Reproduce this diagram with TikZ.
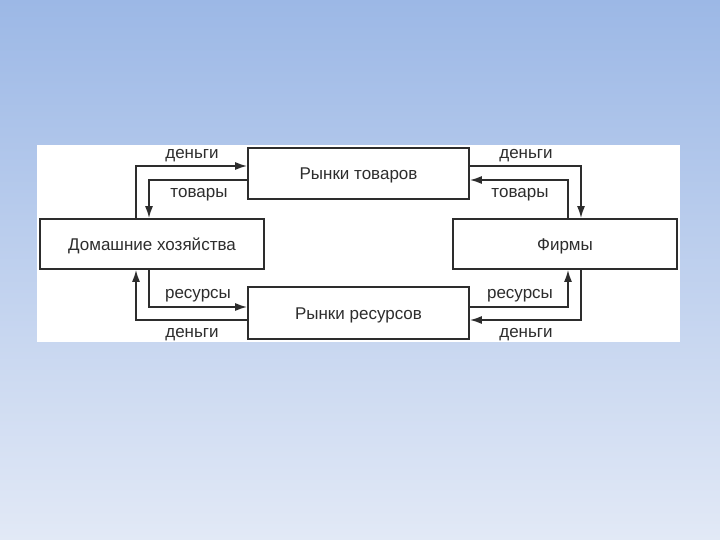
\documentclass[tikz,border=0pt]{standalone}
\usepackage{fontspec}
\setmainfont{Liberation Sans}
\usetikzlibrary{arrows.meta}
\definecolor{bgtop}{RGB}{156,184,230}
\definecolor{bgbot}{RGB}{226,233,246}
\definecolor{ink}{RGB}{45,45,45}
\tikzset{
  box/.style={draw=ink, line width=1.8pt, fill=white, text=ink, inner sep=0pt,
    font=\fontsize{17}{19}\selectfont, text height=12pt, text depth=0pt},
  flow/.style={draw=ink, line width=1.6pt, -{Latex[length=12pt,width=8pt]}},
  lbl/.style={text=ink, font=\fontsize{17}{19}\selectfont, inner sep=0pt, anchor=base}
}
\begin{document}
\begin{tikzpicture}[x=1pt,y=-1pt]
\useasboundingbox (0,0) rectangle (720,540);
\shade[top color=bgtop, bottom color=bgbot] (0,0) rectangle (720,540);
\fill[white] (37,145) rectangle (680,342);

\node[box, minimum width=221pt, minimum height=51pt] (goods) at (358.5,173.5) {Рынки товаров};
\node[box, minimum width=224pt, minimum height=50pt] (hh) at (152,244) {Домашние хозяйства};
\node[box, minimum width=224pt, minimum height=50pt] (firms) at (565,244) {Фирмы};
\node[box, minimum width=221pt, minimum height=52pt] (res) at (358.5,313) {Рынки ресурсов};

\coordinate (xL1) at (136,0);
\coordinate (xL2) at (149,0);
\coordinate (xR1) at (581,0);
\coordinate (xR2) at (568,0);
\coordinate (yT1) at (0,166);
\coordinate (yT2) at (0,180);
\coordinate (yB1) at (0,307);
\coordinate (yB2) at (0,320);

% top left
\draw[flow] (xL1 |- hh.north) |- (goods.west |- yT1);
\draw[flow] (goods.west |- yT2) -| (xL2 |- hh.north);
% top right
\draw[flow] (goods.east |- yT1) -| (xR1 |- firms.north);
\draw[flow] (xR2 |- firms.north) |- (goods.east |- yT2);
% bottom left
\draw[flow] (xL2 |- hh.south) |- (res.west |- yB1);
\draw[flow] (res.west |- yB2) -| (xL1 |- hh.south);
% bottom right
\draw[flow] (res.east |- yB1) -| (xR2 |- firms.south);
\draw[flow] (xR1 |- firms.south) |- (res.east |- yB2);

\node[lbl] (l1) at (192,159) {деньги};
\node[lbl] (l2) at (199,197) {товары};
\node[lbl] (l3) at (526,159) {деньги};
\node[lbl] (l4) at (520,197) {товары};
\node[lbl] (l5) at (198,298) {ресурсы};
\node[lbl] (l6) at (192,337) {деньги};
\node[lbl] (l7) at (520,298) {ресурсы};
\node[lbl] (l8) at (526,337) {деньги};
\end{tikzpicture}
\end{document}
